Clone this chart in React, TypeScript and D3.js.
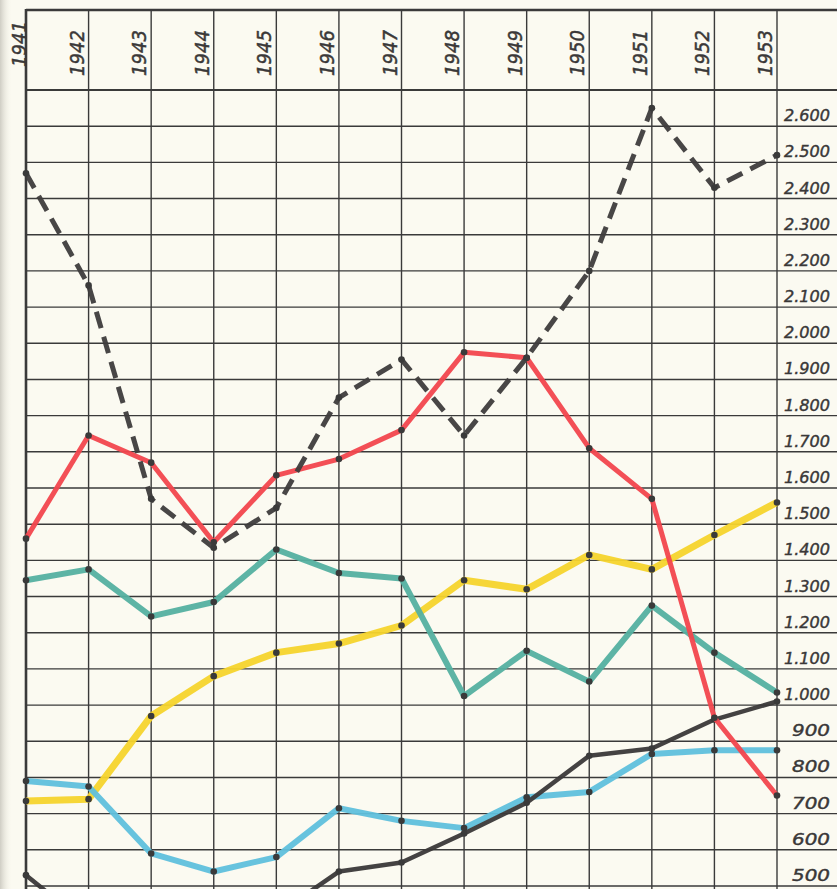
import React from "react";
import * as d3 from "d3";

const years = [1941, 1942, 1943, 1944, 1945, 1946, 1947, 1948, 1949, 1950, 1951, 1952, 1953];
const dashedBlack = [2470, 2160, 1570, 1435, 1545, 1850, 1955, 1745, 1960, 2200, 2650, 2430, 2520];
const red = [1460, 1745, 1670, 1450, 1635, 1680, 1760, 1975, 1960, 1710, 1570, 965, 750];
const yellow = [735, 740, 970, 1080, 1145, 1170, 1220, 1345, 1320, 1415, 1375, 1470, 1560];
const teal = [1345, 1375, 1245, 1285, 1430, 1365, 1350, 1025, 1150, 1065, 1275, 1145, 1035];
const lightBlue = [790, 775, 590, 540, 580, 715, 680, 660, 745, 760, 865, 875, 875];
const solidBlack = [530, 390, 350, 370, 420, 540, 565, 645, 730, 860, 880, 960, 1010];

const yTickValues = [2600, 2500, 2400, 2300, 2200, 2100, 2000, 1900, 1800, 1700, 1600, 1500, 1400, 1300, 1200, 1100, 1000, 900, 800, 700, 600, 500];
const gridValues = d3.range(500, 2701, 100);

const W = 837;
const H = 889;

const series = [
  { name: "yellow", values: yellow, color: "#f6d42c", width: 7, dash: null },
  { name: "teal", values: teal, color: "#54b0a0", width: 6, dash: null },
  { name: "lightBlue", values: lightBlue, color: "#5fc0dc", width: 6, dash: null },
  { name: "solidBlack", values: solidBlack, color: "#3a3838", width: 4.5, dash: null },
  { name: "red", values: red, color: "#f2464d", width: 5, dash: null },
  { name: "dashedBlack", values: dashedBlack, color: "#3e3c3c", width: 5, dash: "17 9" },
];

const fmt = (v: number) => d3.format(",")(v).replace(/,/g, ".");

export default function App() {
  const x = d3.scaleLinear().domain([1941, 1953]).range([26, 777]);
  const y = d3.scaleLinear().domain([500, 2700]).range([886, 90]);
  const line = d3
    .line<number>()
    .x((_, i) => x(years[i]))
    .y((d) => y(d))
    .curve(d3.curveLinear);

  const gridColor = "#3a3a3a";
  const textColor = "#3a3838";

  return (
    <svg
      width={W}
      height={H}
      style={{ position: "absolute", left: 0, top: 0, display: "block" }}
      fontFamily="'DejaVu Sans', sans-serif"
    >
      <defs>
        <linearGradient id="shadow" x1="0" x2="1" y1="0" y2="0">
          <stop offset="0" stopColor="#cfcdc4" />
          <stop offset="1" stopColor="#f8f6ec" stopOpacity="0" />
        </linearGradient>
      </defs>
      <rect x={0} y={0} width={W} height={H} fill="#fbfaf1" />
      <rect x={0} y={0} width={12} height={H} fill="url(#shadow)" />

      {/* horizontal grid */}
      {gridValues.map((v) => (
        <line
          key={"h" + v}
          x1={x(1941)}
          x2={W}
          y1={y(v)}
          y2={y(v)}
          stroke={gridColor}
          strokeWidth={v === 2700 ? 2.2 : 1.4}
        />
      ))}
      {/* top border */}
      <line x1={x(1941)} x2={W} y1={10} y2={10} stroke={gridColor} strokeWidth={2.6} />
      {/* vertical grid */}
      {years.map((yr) => (
        <line
          key={"v" + yr}
          x1={x(yr)}
          x2={x(yr)}
          y1={9}
          y2={H}
          stroke={gridColor}
          strokeWidth={yr === 1941 ? 2.6 : 1.4}
        />
      ))}

      {/* year labels */}
      {years.map((yr) => {
        const cx = Math.max(x(yr) - 12, 19);
        const cy = yr === 1941 ? 44 : 53;
        return (
          <text
            key={"t" + yr}
            transform={`translate(${cx},${cy}) rotate(-90)`}
            textAnchor="middle"
            dominantBaseline="central"
            fontSize={20}
            fontStyle="italic"
            fill={textColor}
            stroke={textColor}
            strokeWidth={0.5}
            textLength={46}
            lengthAdjust="spacingAndGlyphs"
          >
            {yr}
          </text>
        );
      })}

      {/* value labels */}
      {yTickValues.map((v) => (
        <text
          key={"y" + v}
          x={830}
          y={y(v) - 5}
          textAnchor="end"
          fontSize={15}
          fontStyle="italic"
          fill={textColor}
          stroke={textColor}
          strokeWidth={0.4}
          textLength={v >= 1000 ? 46 : 38}
          lengthAdjust="spacingAndGlyphs"
        >
          {fmt(v)}
        </text>
      ))}

      {/* series */}
      {series.map((s) => (
        <g key={s.name}>
          <path
            d={line(s.values) || ""}
            fill="none"
            stroke={s.color}
            strokeWidth={s.width}
            strokeDasharray={s.dash || undefined}
            strokeLinejoin="round"
            strokeOpacity={0.95}
          />
          {s.values.map((v, i) => (
            <circle key={i} cx={x(years[i])} cy={y(v)} r={3.3} fill="#3a3a3a" />
          ))}
        </g>
      ))}
    </svg>
  );
}
